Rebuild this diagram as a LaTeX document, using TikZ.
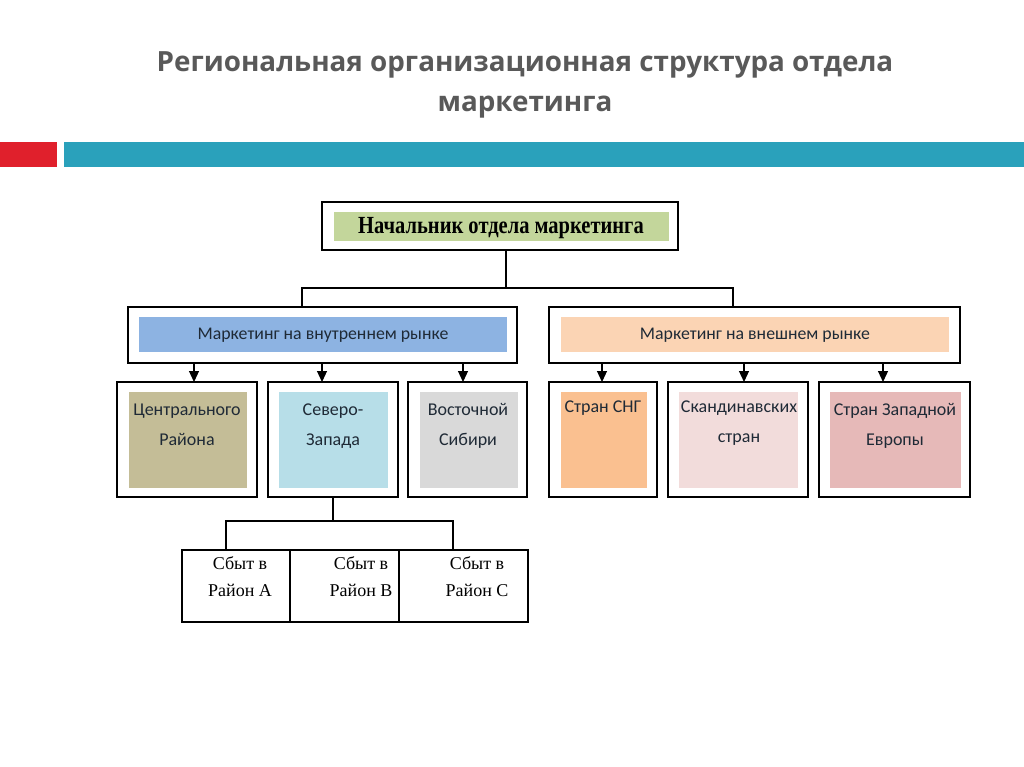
\documentclass[tikz,border=0pt]{standalone}
\usepackage{graphicx}
\usepackage{fontspec}
\setmainfont{Carlito}
\newfontfamily\titlefont{Open Sans}
\newfontfamily\serifcyr{Liberation Serif}
\usetikzlibrary{arrows.meta,positioning}

\definecolor{titlegray}{HTML}{595959}
\definecolor{barred}{HTML}{E0202C}
\definecolor{barteal}{HTML}{2AA1BB}
\definecolor{headgreen}{HTML}{C3D69B}
\definecolor{inblue}{HTML}{8DB3E2}
\definecolor{outpeach}{HTML}{FBD4B4}
\definecolor{centrtan}{HTML}{C4BD97}
\definecolor{nwblue}{HTML}{B7DEE8}
\definecolor{eastgray}{HTML}{D9D9D9}
\definecolor{cisorange}{HTML}{FAC090}
\definecolor{scanpink}{HTML}{F2DCDB}
\definecolor{westrose}{HTML}{E6B9B8}
\definecolor{textdark}{HTML}{1F2A36}

\tikzset{
  frame/.style={draw, line width=1.5pt},
  conn/.style={line width=1.2pt},
  arr/.style={line width=1.2pt, -{Triangle[length=11pt,width=10pt]}},
  celltext/.style={font=\fontsize{18}{30}\selectfont, text=textdark, align=center, anchor=north},
  sbyttext/.style={font=\serifcyr\fontsize{18}{27}\selectfont, align=center, anchor=north},
}

\begin{document}
\begin{tikzpicture}[x=1pt, y=-1pt]
    \useasboundingbox (0,0) rectangle (1024,767);

    % Title
    \node[font=\titlefont\bfseries\fontsize{27.8}{40}\selectfont, text=titlegray, align=center] (title) at (525, 85)
        {Региональная организационная структура отдела\\маркетинга};

    % Colour bars
    \fill[barred] (0,142) rectangle (57,167);
    \fill[barteal] (64,142) rectangle (1024,167);

    % Head of department
    \fill[headgreen] (334,212) rectangle (669,241);
    \draw[frame] (322,202) rectangle (678,250);
    \node[font=\serifcyr\bfseries\fontsize{20.5}{22}\selectfont] (head) at (501,228)
        {\scalebox{1}[1.2]{Начальник отдела маркетинга}};
    \coordinate (headS) at (506,250);

    % Domestic and foreign market
    \fill[inblue] (139,317) rectangle (507,352);
    \draw[frame] (128,307) rectangle (517,363);
    \node[font=\fontsize{17.8}{20}\selectfont, text=textdark] (inner) at (323,335) {Маркетинг на внутреннем рынке};
    \fill[outpeach] (561,317) rectangle (949,352);
    \draw[frame] (549,307) rectangle (960,363);
    \node[font=\fontsize{17.8}{20}\selectfont, text=textdark] (outer) at (755,335) {Маркетинг на внешнем рынке};

    % Connectors from the head
    \coordinate (innerN) at (302,307);
    \coordinate (outerN) at (733,307);
    \draw[conn] (headS) -- (506,288);
    \draw[conn] (innerN) |- (506,288) -| (outerN);

    % Regions
    \fill[centrtan] (129,392) rectangle (247,488);
    \draw[frame] (117,382) rectangle (257,497);
    \node[celltext] (centr) at (187,400) {Центрального\\Района};

    \fill[nwblue] (279,392) rectangle (388,488);
    \draw[frame] (268,382) rectangle (398,497);
    \node[celltext] (nw) at (333,400) {Северо-\\Запада};

    \fill[eastgray] (420,392) rectangle (518,488);
    \draw[frame] (408,382) rectangle (527,497);
    \node[celltext] (east) at (468,400) {Восточной\\Сибири};

    \fill[cisorange] (561,392) rectangle (647,488);
    \draw[frame] (549,382) rectangle (657,497);
    \node[celltext] (cis) at (603,397) {Стран СНГ};

    \fill[scanpink] (679,392) rectangle (798,488);
    \draw[frame] (668,382) rectangle (808,497);
    \node[celltext] (scan) at (739,397) {Скандинавских\\стран};

    \fill[westrose] (830,392) rectangle (961,488);
    \draw[frame] (819,382) rectangle (970,497);
    \node[celltext] (west) at (895,400) {Стран Западной\\Европы};

    % Arrows to the regions
    \foreach \x in {194,322,463,602,744,883}
        \draw[arr] (\x,363) -- (\x,382);

    % Sales in districts
    \draw[frame] (182,550) rectangle (528,622);
    \draw[frame] (290,550) -- (290,622);
    \draw[frame] (399,550) -- (399,622);
    \node[sbyttext] (sbA) at (240,553) {Сбыт в\\Район А};
    \node[sbyttext] (sbB) at (361,553) {Сбыт в\\Район В};
    \node[sbyttext] (sbC) at (477,553) {Сбыт в\\Район С};

    \draw[conn] (333,497) -- (333,521);
    \draw[conn] (226,550) |- (333,521) -| (453,550);
\end{tikzpicture}
\end{document}
